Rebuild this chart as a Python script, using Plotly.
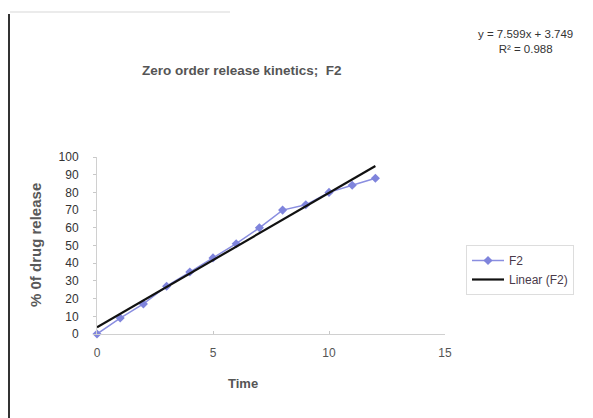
import plotly.graph_objects as go

time = [0, 1, 2, 3, 4, 5, 6, 7, 8, 9, 10, 11, 12]
release_f2 = [0, 9, 17, 27, 35, 43, 51, 60, 70, 73, 80, 84, 88]
slope = 7.599
intercept = 3.749
r2 = 0.988
x_ticks = [0, 5, 10, 15]
y_ticks = [0, 10, 20, 30, 40, 50, 60, 70, 80, 90, 100]

fit_x = [time[0], time[-1]]
fit_y = [slope * v + intercept for v in fit_x]

FONT = "Liberation Sans, Arial"

fig = go.Figure()
fig.add_trace(go.Scatter(
    x=time, y=release_f2, name="F2", mode="lines+markers",
    line=dict(color="#8a8ee0", width=1.5),
    marker=dict(symbol="diamond", size=7, color="#7f84dc"),
    cliponaxis=False,
))
fig.add_trace(go.Scatter(
    x=fit_x, y=fit_y, name="Linear (F2)", mode="lines",
    line=dict(color="#111111", width=2.2),
    cliponaxis=False,
))

W, H = 593, 418
L, R, T, B = 97, 148, 157, 84

def px(xp):
    return (xp - L) / (W - L - R)

def py(yp):
    return (H - B - yp) / (H - T - B)

fig.update_layout(
    width=W, height=H,
    margin=dict(l=L, r=R, t=T, b=B),
    paper_bgcolor="white", plot_bgcolor="white",
    font=dict(family=FONT, size=12, color="#333333"),
    showlegend=True,
    legend=dict(
        x=px(466), y=py(245), xanchor="left", yanchor="top",
        bordercolor="#dddddd", borderwidth=1,
        font=dict(family=FONT, size=12, color="#4a3a4a"),
        tracegroupgap=4, itemwidth=32,
    ),
    xaxis=dict(
        range=[0, 15], tickvals=x_ticks, showgrid=False, zeroline=False,
        showline=True, linecolor="#d0d0d0", linewidth=1,
        ticks="inside", ticklen=3, tickcolor="#c8c8c8",
        ticklabelstandoff=8, tickfont=dict(color="#555555", size=12),
    ),
    yaxis=dict(
        range=[0, 100], tickvals=y_ticks, showgrid=False, zeroline=False,
        showline=True, linecolor="#d0d0d0", linewidth=1,
        ticks="outside", ticklen=3, tickcolor="#c8c8c8",
        ticklabelstandoff=12, tickfont=dict(color="#333333", size=12),
    ),
    annotations=[
        dict(text="<b>Zero order release kinetics;  F2</b>", xref="paper", yref="paper",
             x=px(242), y=py(70), xanchor="center", yanchor="middle",
             showarrow=False, font=dict(family=FONT, size=13.5, color="#555555")),
        dict(text="y = 7.599x + 3.749<br>R² = 0.988", xref="paper", yref="paper",
             x=px(525), y=py(41), xanchor="center", yanchor="middle",
             showarrow=False, align="center",
             font=dict(family=FONT, size=11.5, color="#333333")),
        dict(text="<b>Time</b>", xref="paper", yref="paper",
             x=px(243), y=py(383), xanchor="center", yanchor="middle",
             showarrow=False, font=dict(family=FONT, size=13, color="#555555")),
        dict(text="<b>% 0f drug release</b>", xref="paper", yref="paper",
             x=px(35), y=py(245), xanchor="center", yanchor="middle",
             textangle=-90,
             showarrow=False, font=dict(family=FONT, size=15, color="#595959")),
    ],
    shapes=[
        dict(type="line", xref="paper", yref="paper",
             x0=px(9), x1=px(9), y0=py(14), y1=py(418),
             line=dict(color="#333333", width=2)),
        dict(type="line", xref="paper", yref="paper",
             x0=px(10), x1=px(230), y0=py(12), y1=py(12),
             line=dict(color="#e4e4e4", width=1.5)),
    ],
)

fig.write_html("out.html")
